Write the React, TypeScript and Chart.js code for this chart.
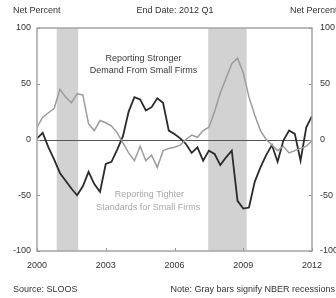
import React, { useEffect, useRef } from "react";
import { Chart, registerables } from "chart.js";

Chart.register(...registerables);

// Quarterly survey dates, 2000 Q1 .. 2012 Q1
const quarters: string[] = [
  "2000 Q1","2000 Q2","2000 Q3","2000 Q4",
  "2001 Q1","2001 Q2","2001 Q3","2001 Q4",
  "2002 Q1","2002 Q2","2002 Q3","2002 Q4",
  "2003 Q1","2003 Q2","2003 Q3","2003 Q4",
  "2004 Q1","2004 Q2","2004 Q3","2004 Q4",
  "2005 Q1","2005 Q2","2005 Q3","2005 Q4",
  "2006 Q1","2006 Q2","2006 Q3","2006 Q4",
  "2007 Q1","2007 Q2","2007 Q3","2007 Q4",
  "2008 Q1","2008 Q2","2008 Q3","2008 Q4",
  "2009 Q1","2009 Q2","2009 Q3","2009 Q4",
  "2010 Q1","2010 Q2","2010 Q3","2010 Q4",
  "2011 Q1","2011 Q2","2011 Q3","2011 Q4",
  "2012 Q1",
];

// Net percent reporting stronger demand from small firms
const demandValues: number[] = [
  1, 6, -7, -18,
  -30, -37, -44, -50,
  -42, -29, -40, -47,
  -22, -20, -9, 3,
  25, 38, 36, 26,
  29, 37, 33, 8,
  5, 1, -4, -12,
  -7, -19, -10, -13,
  -23, -16, -10, -55,
  -62, -61, -38, -25,
  -14, -5, -20, -1,
  8, 5, -19, 11,
  21,
];

// Net percent reporting tighter standards for small firms
const standardsValues: number[] = [
  11, 20, 24, 28,
  45, 38, 33, 41,
  40, 14, 8, 17,
  15, 12, 6, -3,
  -12, -19, -6, -19,
  -14, -25, -10, -8,
  -7, -5, 0, 4,
  2, 8, 11, 25,
  42, 55, 68, 73,
  60, 38, 22, 8,
  0, -5, -10, -6,
  -12, -10, -8, -6,
  -1,
];

// NBER recession shading (in years)
const recessionStarts: number[] = [2000.86, 2007.47];
const recessionEnds: number[] = [2001.8, 2009.15];

const xTickYears: number[] = [2000, 2003, 2006, 2009, 2012];
const yTickValues: number[] = [-100, -50, 0, 50, 100];

const FONT = "'Liberation Sans', Arial, sans-serif";

function quarterToYear(q: string): number {
  const [y, qq] = q.split(" Q");
  return Number(y) + (Number(qq) - 1) / 4;
}

const overlayPlugin = {
  id: "overlay",
  beforeDatasetsDraw(chart: any) {
    const { ctx, chartArea } = chart;
    const x = chart.scales.x;
    const y = chart.scales.y;
    ctx.save();
    ctx.fillStyle = "#d2d2d2";
    for (let i = 0; i < recessionStarts.length; i++) {
      const x0 = x.getPixelForValue(recessionStarts[i]);
      const x1 = x.getPixelForValue(recessionEnds[i]);
      ctx.fillRect(x0, chartArea.top, x1 - x0, chartArea.bottom - chartArea.top);
    }
    // zero line
    const y0 = Math.round(y.getPixelForValue(0)) + 0.5;
    ctx.strokeStyle = "#555";
    ctx.lineWidth = 1;
    ctx.beginPath();
    ctx.moveTo(chartArea.left, y0);
    ctx.lineTo(chartArea.right, y0);
    ctx.stroke();
    ctx.restore();
  },
  afterDatasetsDraw(chart: any) {
    const { ctx, chartArea, width, height } = chart;
    const x = chart.scales.x;
    const y = chart.scales.y;
    ctx.save();
    // frame
    ctx.strokeStyle = "#a5a5a5";
    ctx.lineWidth = 1.5;
    ctx.strokeRect(chartArea.left, chartArea.top, chartArea.right - chartArea.left, chartArea.bottom - chartArea.top);
    // inner tick marks
    ctx.lineWidth = 1;
    ctx.strokeStyle = "#999";
    ctx.beginPath();
    for (const v of yTickValues) {
      const py = Math.round(y.getPixelForValue(v)) + 0.5;
      ctx.moveTo(chartArea.left, py);
      ctx.lineTo(chartArea.left + 3, py);
      ctx.moveTo(chartArea.right, py);
      ctx.lineTo(chartArea.right - 3, py);
    }
    for (const v of xTickYears) {
      const px = Math.round(x.getPixelForValue(v)) + 0.5;
      ctx.moveTo(px, chartArea.bottom);
      ctx.lineTo(px, chartArea.bottom - 3);
    }
    ctx.stroke();

    // annotations
    ctx.font = `9px ${FONT}`;
    ctx.textAlign = "center";
    ctx.textBaseline = "middle";
    ctx.fillStyle = "#3a3a3a";
    ctx.fillText("Reporting Stronger", x.getPixelForValue(2004.65), y.getPixelForValue(73));
    ctx.fillText("Demand From Small Firms", x.getPixelForValue(2004.65), y.getPixelForValue(62));
    ctx.fillStyle = "#a8a8a8";
    ctx.fillText("Reporting Tighter", x.getPixelForValue(2004.9), y.getPixelForValue(-49));
    ctx.fillText("Standards for Small Firms", x.getPixelForValue(2004.85), y.getPixelForValue(-61));

    // header / footer
    ctx.fillStyle = "#333";
    ctx.textAlign = "left";
    ctx.fillText("Net Percent", 13, 11);
    ctx.fillText("Net Percent", 290, 11);
    ctx.textAlign = "center";
    ctx.fillText("End Date: 2012 Q1", 175, 11);
    ctx.textAlign = "left";
    ctx.fillText("Source: SLOOS", 13, height - 8);
    ctx.textAlign = "right";
    ctx.fillText("Note: Gray bars signify NBER recessions", width - 1, height - 8);
    ctx.restore();
  },
};

export default function App() {
  const canvasRef = useRef<HTMLCanvasElement | null>(null);

  useEffect(() => {
    if (!canvasRef.current) return;
    const xs = quarters.map(quarterToYear);
    const chart = new Chart(canvasRef.current, {
      type: "line",
      data: {
        datasets: [
          {
            label: "Reporting Tighter Standards for Small Firms",
            data: xs.map((xv, i) => ({ x: xv, y: standardsValues[i] })),
            borderColor: "#9c9c9c",
            borderWidth: 1.5,
            pointRadius: 0,
            tension: 0,
            yAxisID: "y",
          },
          {
            label: "Reporting Stronger Demand From Small Firms",
            data: xs.map((xv, i) => ({ x: xv, y: demandValues[i] })),
            borderColor: "#2b2b2b",
            borderWidth: 1.8,
            pointRadius: 0,
            tension: 0,
            yAxisID: "y",
          },
        ],
      },
      options: {
        responsive: false,
        animation: false,
        devicePixelRatio: 1,
        layout: { padding: { top: 28, left: 0, right: 0, bottom: 0 } },
        plugins: { legend: { display: false }, tooltip: { enabled: false }, title: { display: false } },
        scales: {
          x: {
            type: "linear",
            position: "bottom",
            min: 2000,
            max: 2012,
            afterBuildTicks: (scale: any) => {
              scale.ticks = xTickYears.map((v) => ({ value: v }));
            },
            afterFit: (scale: any) => {
              scale.height = 47;
            },
            grid: { display: false, drawTicks: false },
            border: { display: false },
            ticks: {
              font: { family: FONT, size: 9 },
              color: "#333",
              padding: 9,
              maxRotation: 0,
              callback: (v: any) => String(v),
            },
          },
          y: {
            type: "linear",
            position: "left",
            min: -100,
            max: 100,
            afterBuildTicks: (scale: any) => {
              scale.ticks = yTickValues.map((v) => ({ value: v }));
            },
            afterFit: (scale: any) => {
              scale.width = 37;
            },
            grid: { display: false, drawTicks: false },
            border: { display: false },
            ticks: { font: { family: FONT, size: 9 }, color: "#333", padding: 6 },
          },
          y2: {
            type: "linear",
            position: "right",
            display: true,
            min: -100,
            max: 100,
            afterBuildTicks: (scale: any) => {
              scale.ticks = yTickValues.map((v) => ({ value: v }));
            },
            afterFit: (scale: any) => {
              scale.width = 24;
            },
            grid: { display: false, drawTicks: false },
            border: { display: false },
            ticks: { font: { family: FONT, size: 9 }, color: "#333", padding: 8 },
          },
        },
      },
      plugins: [overlayPlugin],
    } as any);
    return () => chart.destroy();
  }, []);

  return (
    <div style={{ position: "fixed", left: 0, top: 0, width: 336, height: 298, background: "#fff" }}>
      <canvas ref={canvasRef} width={336} height={298} style={{ display: "block" }} />
    </div>
  );
}
